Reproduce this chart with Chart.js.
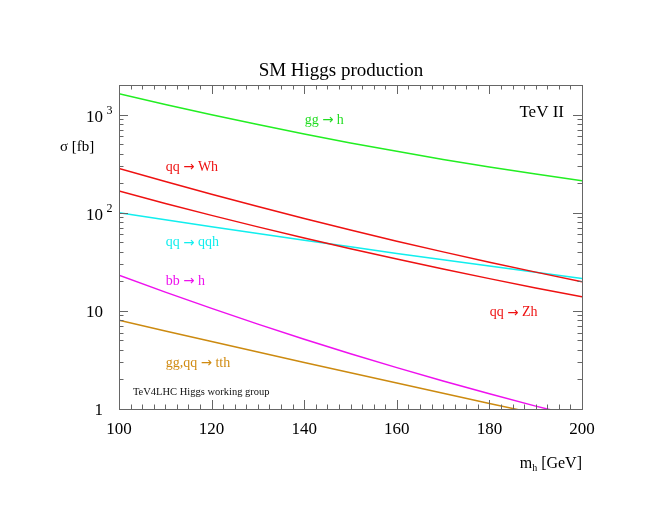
<!DOCTYPE html>
<html>
<head>
<meta charset="utf-8">
<script src="https://cdn.jsdelivr.net/npm/chart.js@4.4.1/dist/chart.umd.min.js"></script>
<style>
  html,body{margin:0;padding:0;background:#fff;}
  #c{display:block;}
</style>
</head>
<body>
<canvas id="c" width="660" height="510"></canvas>
<script>
/* SM Higgs production at the Tevatron, cross sections in fb */
const masses = [100,110,120,130,140,150,160,170,180,190,200];
const ggH  = [1633,1268,996,791,634,514,422,349,292,248,212];
const qqWH = [283,208,154,115.5,87.3,66.6,51.2,39.9,31.3,24.8,19.8];
const qqZH = [166,124,93.9,71.7,55.2,42.9,33.7,26.7,21.3,17.1,13.9];
const qqH  = [100,84.8,72.1,61.4,52.5,44.9,38.5,33.2,28.6,24.7,21.4];
const bbH  = [23.1,15.5,10.6,7.33,5.14,3.66,2.64,1.93,1.43,1.07,0.82];
const ttH  = [8.02,6.24,4.87,3.81,2.98,2.34,1.84,1.45,1.14,0.90,0.71];

const xTicks = [100,120,140,160,180,200];
const yTicks = [1,10,100,1000];

const SERIF = '"Liberation Serif","DejaVu Serif",serif';
const ARROWF = '"DejaVu Sans",sans-serif';
const AX = '#666';

const pts = ys => masses.map((m,i)=>({x:m,y:ys[i]}));
const ds = (ys,col) => ({data:pts(ys),borderColor:col,borderWidth:1.5,pointRadius:0,fill:false,tension:0});

/* curve labels, placed in data coordinates */
const notes = [
  {t:'gg \u2192 h',        x:140.1, y:875,  c:'#22dd22', f:14},
  {t:'qq \u2192 Wh',       x:110.1, y:289,  c:'#ee1111', f:14},
  {t:'qq \u2192 qqh',      x:110.1, y:49.4, c:'#11eeee', f:14},
  {t:'bb \u2192 h',        x:110.1, y:20.1, c:'#ee11ee', f:14},
  {t:'qq \u2192 Zh',       x:180.1, y:9.6,  c:'#ee1111', f:14},
  {t:'gg,qq \u2192 tth',   x:110.1, y:2.94, c:'#d08a10', f:14},
  {t:'TeV4LHC Higgs working group', x:103.0, y:1.48, c:'#111', f:10.5}
];

/* draw a string, switching font for the arrow glyph */
function drawLabel(ctx, s, px, py, f){
  const parts = s.split('\u2192');
  let cx = px;
  parts.forEach((p,i)=>{
    if(i>0){
      ctx.font = (f*0.95)+'px '+ARROWF;
      ctx.fillText('\u2192', cx, py+0.5);
      cx += ctx.measureText('\u2192').width;
    }
    ctx.font = f+'px '+SERIF;
    ctx.fillText(p, cx, py);
    cx += ctx.measureText(p).width;
  });
}

const frame = {
  id:'frame',
  afterDatasetsDraw(ch){
    const {ctx,chartArea:a,scales:{x,y}} = ch;
    ctx.save();
    ctx.strokeStyle = AX; ctx.lineWidth = 1;
    ctx.strokeRect(a.left+0.5,a.top+0.5,a.right-a.left,a.bottom-a.top);
    ctx.beginPath();
    for(let v=100; v<=200.01; v+=2.5){
      const px = Math.round(x.getPixelForValue(v))+0.5;
      const L = (Math.abs(v%20)<0.01)?9:4.5;
      ctx.moveTo(px,a.bottom); ctx.lineTo(px,a.bottom-L);
      ctx.moveTo(px,a.top);    ctx.lineTo(px,a.top+L);
    }
    for(let d=1; d<=1000; d*=10){
      for(let k=1;k<=9;k++){
        const v=d*k; if(v>2000) break;
        const py = Math.round(y.getPixelForValue(v))+0.5;
        const L = k===1?9:4.5;
        ctx.moveTo(a.left,py);  ctx.lineTo(a.left+L,py);
        ctx.moveTo(a.right,py); ctx.lineTo(a.right-L,py);
      }
    }
    ctx.stroke();

    ctx.fillStyle = '#000';
    ctx.font = '17px '+SERIF; ctx.textAlign='center'; ctx.textBaseline='alphabetic';
    xTicks.forEach(v=>ctx.fillText(String(v), x.getPixelForValue(v), 434));

    yTicks.forEach(v=>{
      const py = y.getPixelForValue(v);
      const e = Math.round(Math.log10(v));
      ctx.textAlign='right';
      if(e<=1){
        ctx.font='17px '+SERIF;
        ctx.fillText(String(v), 103, py+6);
      }else{
        ctx.font='17px '+SERIF;
        ctx.fillText('10', 103, py+7);
        ctx.font='12px '+SERIF; ctx.textAlign='left';
        ctx.fillText(String(e), 106.5, py-1);
      }
    });

    ctx.textAlign='center';
    ctx.font='19px '+SERIF;
    ctx.fillText('SM Higgs production', 341, 76);

    ctx.textAlign='left';
    ctx.font='15px '+SERIF;
    ctx.fillText('\u03c3 [fb]', 60, 151);

    ctx.textAlign='right';
    ctx.font='17px '+SERIF;
    ctx.fillText('TeV II', 564, 117);

    /* x axis title with subscript */
    ctx.font='16px '+SERIF;
    const rest=' [GeV]';
    const wr=ctx.measureText(rest).width;
    ctx.textAlign='left';
    ctx.fillText(rest, 582-wr, 468);
    ctx.font='10px '+SERIF;
    const wh=ctx.measureText('h').width;
    ctx.fillText('h', 582-wr-wh, 471);
    ctx.font='16px '+SERIF;
    const wm=ctx.measureText('m').width;
    ctx.fillText('m', 582-wr-wh-wm, 468);

    ctx.textBaseline='middle';
    ctx.textAlign='left';
    notes.forEach(n=>{
      ctx.fillStyle=n.c;
      drawLabel(ctx, n.t, x.getPixelForValue(n.x), y.getPixelForValue(n.y), n.f);
    });
    ctx.restore();
  }
};

const flat = s => { s.width = 0; s.height = 0; };

new Chart(document.getElementById('c'),{
  type:'line',
  data:{datasets:[
    ds(ggH,'#22ee22'),
    ds(qqWH,'#ee1111'),
    ds(qqZH,'#ee1111'),
    ds(qqH,'#11eeee'),
    ds(bbH,'#ee11ee'),
    ds(ttH,'#cc8a10')
  ]},
  options:{
    responsive:false, animation:false, devicePixelRatio:1,
    layout:{padding:{left:119,top:85,right:78,bottom:101}},
    plugins:{legend:{display:false},tooltip:{enabled:false},title:{display:false}},
    scales:{
      x:{type:'linear',min:100,max:200,ticks:{display:false},grid:{display:false},border:{display:false},afterFit:flat},
      y:{type:'logarithmic',min:1,max:2000,ticks:{display:false},grid:{display:false},border:{display:false},afterFit:flat}
    }
  },
  plugins:[frame]
});
</script>
</body>
</html>
